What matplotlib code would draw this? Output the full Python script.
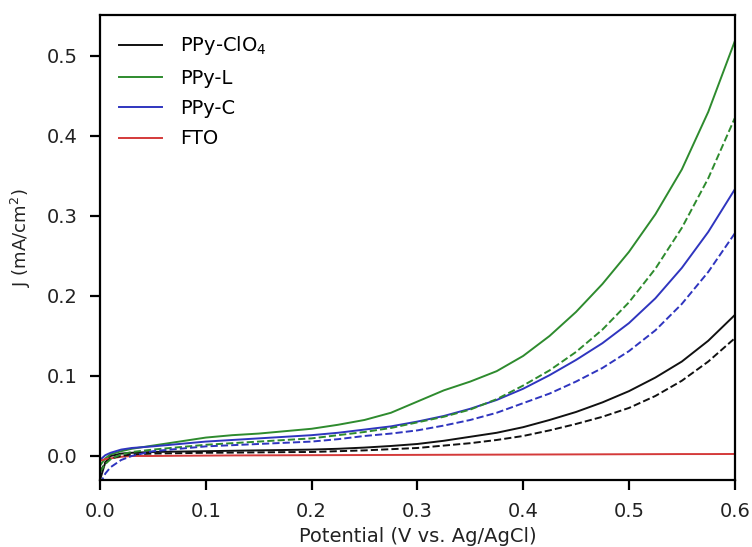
import matplotlib.pyplot as plt

# Linear sweep voltammetry, J vs potential (solid: light, dashed: dark)
potential = [0.0, 0.005, 0.01, 0.02, 0.03, 0.05, 0.075, 0.1, 0.125, 0.15, 0.175, 0.2,
             0.225, 0.25, 0.275, 0.3, 0.325, 0.35, 0.375, 0.4, 0.425, 0.45, 0.475,
             0.5, 0.525, 0.55, 0.575, 0.6]

ppy_clo4_light = [-0.03, -0.008, 0.0, 0.003, 0.004, 0.005, 0.0055, 0.006, 0.0065, 0.007,
                  0.0075, 0.008, 0.009, 0.0105, 0.0125, 0.015, 0.019, 0.024, 0.029,
                  0.036, 0.045, 0.055, 0.067, 0.081, 0.098, 0.118, 0.144, 0.176]
ppy_clo4_dark = [-0.02, -0.008, -0.003, 0.0, 0.002, 0.003, 0.0035, 0.004, 0.0042, 0.0045,
                 0.0048, 0.005, 0.006, 0.007, 0.0085, 0.010, 0.013, 0.016, 0.020,
                 0.025, 0.032, 0.040, 0.049, 0.060, 0.075, 0.094, 0.118, 0.147]

ppy_l_light = [-0.012, -0.003, 0.002, 0.006, 0.009, 0.013, 0.018, 0.023, 0.026, 0.028,
               0.031, 0.034, 0.039, 0.045, 0.054, 0.068, 0.082, 0.093, 0.106, 0.125,
               0.150, 0.180, 0.215, 0.255, 0.302, 0.358, 0.430, 0.518]
ppy_l_dark = [-0.02, -0.01, -0.004, 0.002, 0.005, 0.008, 0.011, 0.014, 0.016, 0.018,
              0.020, 0.022, 0.026, 0.030, 0.035, 0.042, 0.049, 0.058, 0.071, 0.088,
              0.107, 0.130, 0.158, 0.192, 0.234, 0.285, 0.347, 0.422]

ppy_c_light = [-0.005, 0.001, 0.004, 0.008, 0.010, 0.012, 0.015, 0.018, 0.020, 0.022,
               0.024, 0.026, 0.029, 0.033, 0.037, 0.043, 0.050, 0.059, 0.070, 0.084,
               0.101, 0.120, 0.141, 0.166, 0.197, 0.235, 0.280, 0.333]
ppy_c_dark = [-0.035, -0.022, -0.014, -0.005, 0.0, 0.006, 0.009, 0.012, 0.0135, 0.015,
              0.0165, 0.018, 0.021, 0.025, 0.028, 0.032, 0.038, 0.045, 0.054, 0.066,
              0.078, 0.093, 0.110, 0.131, 0.157, 0.190, 0.230, 0.278]

fto_light = [-0.006, -0.004, -0.003, -0.001, 0.0, 0.0, 0.0003, 0.0005, 0.0007, 0.0008,
             0.0009, 0.001, 0.0011, 0.0012, 0.0013, 0.0014, 0.0015, 0.0016, 0.0017,
             0.0018, 0.0019, 0.002, 0.0021, 0.0022, 0.0023, 0.0024, 0.0024, 0.0025]

fig = plt.figure(figsize=(7.52, 5.47), dpi=100)
ax = fig.add_axes([0.133, 0.1225, 0.844, 0.85])

c_black = '#111111'
c_green = '#2e8b2e'
c_blue = '#2f35bf'
c_red = '#d43a3a'
lw = 1.4

ax.plot(potential, ppy_clo4_light, color=c_black, lw=lw, label='PPy-ClO$_4$')
ax.plot(potential, ppy_l_light, color=c_green, lw=lw, label='PPy-L')
ax.plot(potential, ppy_c_light, color=c_blue, lw=lw, label='PPy-C')
ax.plot(potential, fto_light, color=c_red, lw=lw, label='FTO')
ax.plot(potential, ppy_clo4_dark, color=c_black, lw=lw, ls='--')
ax.plot(potential, ppy_l_dark, color=c_green, lw=lw, ls='--')
ax.plot(potential, ppy_c_dark, color=c_blue, lw=lw, ls='--')

ax.set_xlim(0, 0.6)
ax.set_ylim(-0.03, 0.551)
ax.set_xticks([0.0, 0.1, 0.2, 0.3, 0.4, 0.5, 0.6])
ax.set_yticks([0.0, 0.1, 0.2, 0.3, 0.4, 0.5])

for s in ax.spines.values():
    s.set_linewidth(1.6)
ax.tick_params(direction='out', length=7, width=1.6, labelsize=14,
               labelcolor='#222222', pad=9)

ax.set_xlabel('Potential (V vs. Ag/AgCl)', fontsize=14, color='#222222', labelpad=4)
ax.set_ylabel('J (mA/cm$^2$)', fontsize=13, color='#222222')
ax.yaxis.set_label_coords(-0.106, 0.52)

ax.legend(loc='upper left', frameon=False, fontsize=14, handlelength=2.2,
          labelspacing=0.58, borderaxespad=0.6, handletextpad=0.9)

fig.savefig('out.png', dpi=100)
